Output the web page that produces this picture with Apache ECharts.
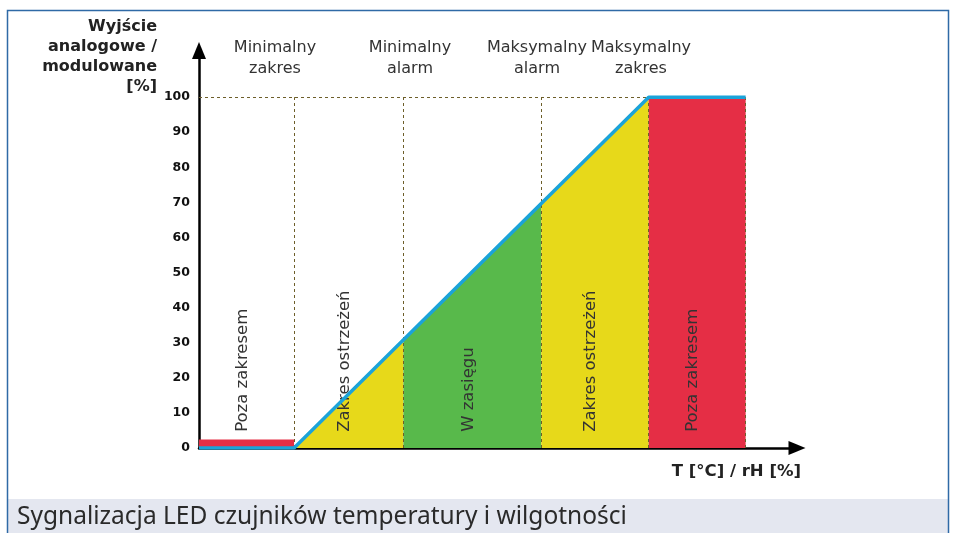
<!DOCTYPE html>
<html>
<head>
<meta charset="utf-8">
<script src="https://cdn.jsdelivr.net/npm/echarts@6/dist/echarts.min.js"></script>
<style>
  html, body { margin: 0; padding: 0; background: #fff; }
  #main { width: 953px; height: 533px; }
</style>
</head>
<body>
<div id="main"></div>
<script>
// granice stref na osi T / rH (jednostki umowne)
var zoneEdges = [0, 10, 21.5, 36, 47.3, 57.5];
var zoneNames = ['Poza zakresem', 'Zakres ostrzeżeń', 'W zasięgu', 'Zakres ostrzeżeń', 'Poza zakresem'];
var zoneColors = ['#e52e45', '#e7d91a', '#58b94b', '#e7d91a', '#e52e45'];
// wysokość wypełnienia na lewej i prawej krawędzi strefy
var zoneTopLeft = [2.4, 0, 30.8, 69.7, 100];
var zoneTopRight = [2.4, 30.8, 69.7, 100, 100];
// charakterystyka wyjścia
var outputLine = [[0, 0], [10, 0], [47.3, 100], [57.5, 100]];
var yTicks = [0, 10, 20, 30, 40, 50, 60, 70, 80, 90, 100];
var topLabels = ['Minimalny\nzakres', 'Minimalny\nalarm', 'Maksymalny\nalarm', 'Maksymalny\nzakres'];
var topLabelX = [275, 410, 537, 641];

var zoneData = [];
for (var i = 0; i < zoneNames.length; i++) {
    zoneData.push([zoneEdges[i], zoneEdges[i + 1], zoneTopLeft[i], zoneTopRight[i], i]);
}

var dashLines = [];
for (var k = 1; k < zoneEdges.length; k++) {
    dashLines.push([{ coord: [zoneEdges[k], 0] }, { coord: [zoneEdges[k], 100] }]);
}
dashLines.push([{ coord: [0, 100] }, { coord: [zoneEdges[4], 100] }]);

var myChart = echarts.init(document.getElementById('main'));

var txt = '#333';
var graphics = [
    { type: 'rect', silent: true, z: 0, shape: { x: 8, y: 499, width: 940, height: 34 }, style: { fill: '#e4e7f0' } },
    { type: 'rect', silent: true, z: 1, shape: { x: 7.5, y: 10.5, width: 941, height: 530 }, style: { fill: 'none', stroke: '#2f6aa6', lineWidth: 1.5 } },
    { type: 'text', x: 17, y: 517, style: { text: 'Sygnalizacja LED czujników temperatury i wilgotności', font: '24.5px "Noto Sans"', fill: '#2a2a2a', verticalAlign: 'middle' } },
    { type: 'text', x: 157, y: 17, style: { text: 'Wyjście\nanalogowe /\nmodulowane\n[%]', font: 'bold 16px "DejaVu Sans"', fill: '#222', align: 'right', lineHeight: 20 } },
    { type: 'text', x: 801, y: 472, style: { text: 'T [°C] / rH [%]', font: 'bold 16.5px "DejaVu Sans"', fill: '#222', align: 'right', verticalAlign: 'middle' } }
];
for (var t = 0; t < topLabels.length; t++) {
    graphics.push({ type: 'text', x: topLabelX[t], y: 37, style: { text: topLabels[t], font: '16px "DejaVu Sans"', fill: txt, align: 'center', lineHeight: 21 } });
}

myChart.setOption({
    backgroundColor: '#fff',
    animation: false,
    grid: { left: 199, right: 156, top: 50.5, bottom: 85 },
    xAxis: {
        type: 'value', min: 0, max: 62.9,
        axisLine: { show: true, onZero: false, symbol: ['none', 'triangle'], symbolSize: [14, 17], lineStyle: { color: '#000', width: 2.5 } },
        axisTick: { show: false }, axisLabel: { show: false }, splitLine: { show: false }
    },
    yAxis: {
        type: 'value', min: 0, max: 113.3, interval: 10,
        axisLine: { show: true, symbol: ['none', 'triangle'], symbolSize: [14, 17], lineStyle: { color: '#000', width: 2.5 } },
        axisTick: { show: false }, splitLine: { show: false },
        axisLabel: {
            margin: 9, color: '#111', fontWeight: 'bold', fontSize: 12.5, fontFamily: 'DejaVu Sans',
            formatter: function (v) { return yTicks.indexOf(v) >= 0 ? String(v) : ''; }
        }
    },
    graphic: graphics,
    series: [
        {
            type: 'custom',
            z: 2,
            silent: true,
            data: zoneData,
            renderItem: function (params, api) {
                var x0 = api.value(0), x1 = api.value(1);
                var idx = api.value(4);
                var pts = [
                    api.coord([x0, 0]), api.coord([x1, 0]),
                    api.coord([x1, api.value(3)]), api.coord([x0, api.value(2)])
                ];
                var c = api.coord([(x0 + x1) / 2, 4.6]);
                return {
                    type: 'group',
                    children: [
                        { type: 'polygon', shape: { points: pts }, style: { fill: zoneColors[idx] } },
                        {
                            type: 'text', x: c[0] - 4, y: c[1], rotation: Math.PI / 2, z2: 10,
                            style: { text: zoneNames[idx], font: '16.5px "DejaVu Sans"', fill: txt, align: 'left', verticalAlign: 'middle' }
                        }
                    ]
                };
            },
            markLine: {
                silent: true, symbol: 'none', label: { show: false },
                lineStyle: { color: '#6d5f2a', type: [3, 3], width: 1 },
                data: dashLines
            }
        },
        {
            type: 'line',
            z: 5,
            data: outputLine,
            symbol: 'none',
            lineStyle: { color: '#1ba3d9', width: 3.5 }
        }
    ]
});
</script>
</body>
</html>
